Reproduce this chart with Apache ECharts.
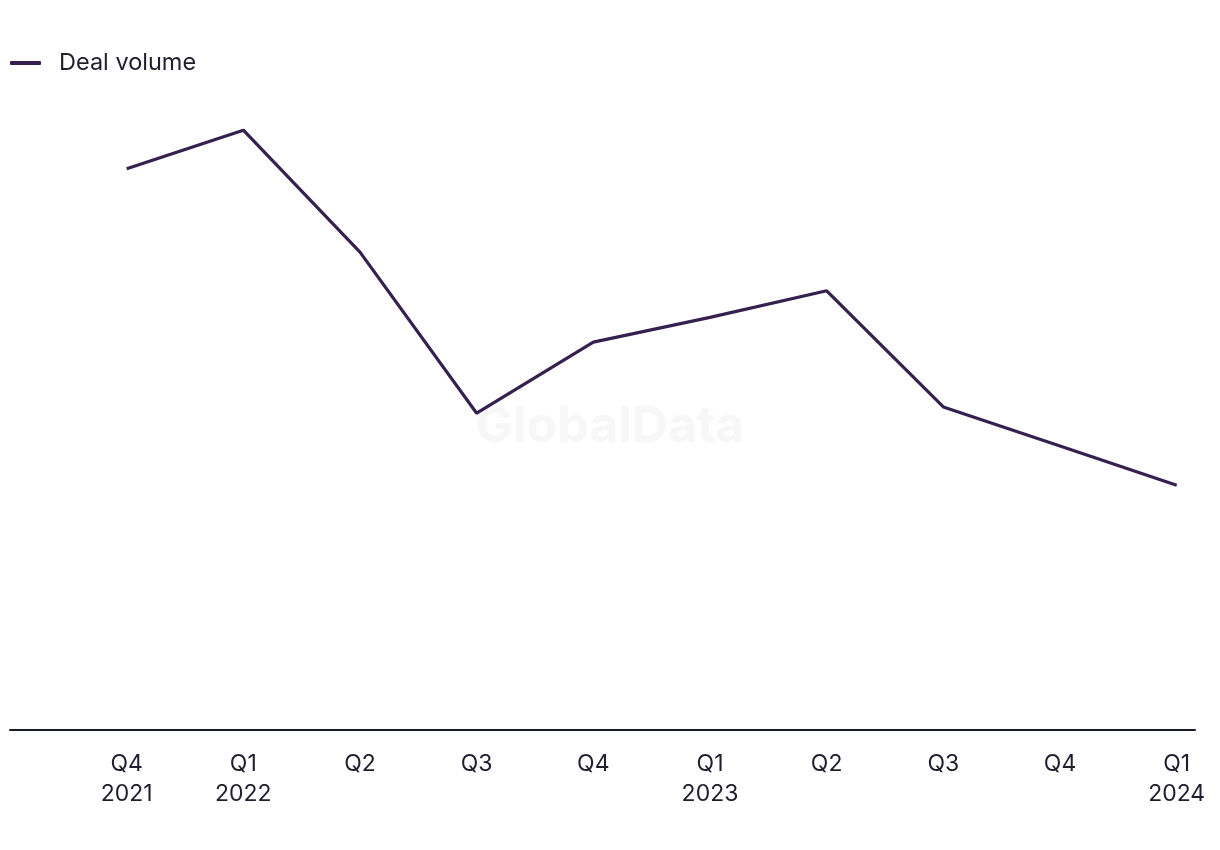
<!DOCTYPE html>
<html>
<head>
<meta charset="utf-8">
<script src="https://cdn.jsdelivr.net/npm/echarts@6/dist/echarts.min.js"></script>
<style>html,body{margin:0;padding:0;background:#fff;}#chart{width:1220px;height:850px;}</style>
</head>
<body>
<div id="chart"></div>
<script>
const categories = ['Q4\n2021', 'Q1\n2022', 'Q2', 'Q3', 'Q4', 'Q1\n2023', 'Q2', 'Q3', 'Q4', 'Q1\n2024'];
const dealVolume = [124.7, 133.3, 106.2, 70.4, 86.2, 91.7, 97.6, 71.8, 63.1, 54.4];
const seriesName = 'Deal volume';

const chart = echarts.init(document.getElementById('chart'), null, {renderer: 'canvas'});
const font = 'Inter, "Noto Sans", sans-serif';
chart.setOption({
  animation: false,
  backgroundColor: '#ffffff',
  graphic: [{
    type: 'text', left: 'center', top: 402, z: 0,
    style: {text: 'GlobalData', font: 'bold 50px ' + font, fill: '#f7f7f7'}
  }],
  legend: {
    left: 10, top: 51, padding: 0,
    itemWidth: 31, itemHeight: 4, itemGap: 20,
    icon: 'roundRect',
    textStyle: {fontFamily: font, fontSize: 23.5, color: '#1e1e2e', padding: [0, 0, 0, 13]},
    data: [seriesName]
  },
  grid: {left: 10, right: 25, top: 100, bottom: 120, containLabel: false},
  xAxis: {
    type: 'value', min: -1, max: 9.157, interval: 1,
    axisLine: {show: true, onZero: false, lineStyle: {color: '#1a1a2e', width: 2}},
    axisTick: {show: false},
    splitLine: {show: false},
    axisLabel: {
      showMinLabel: true, showMaxLabel: true,
      margin: 19, fontFamily: font, fontSize: 23, lineHeight: 30, color: '#1e1e2e',
      formatter: v => (Number.isInteger(v) && v >= 0 && v < categories.length) ? categories[v] : ''
    }
  },
  yAxis: {type: 'value', min: 0, max: 140, show: false, splitLine: {show: false}},
  series: [{
    name: seriesName, type: 'line', symbol: 'none',
    color: '#35204f',
    lineStyle: {color: '#35204f', width: 3.2},
    data: dealVolume.map((v, i) => [i, v])
  }]
});
</script>
</body>
</html>
